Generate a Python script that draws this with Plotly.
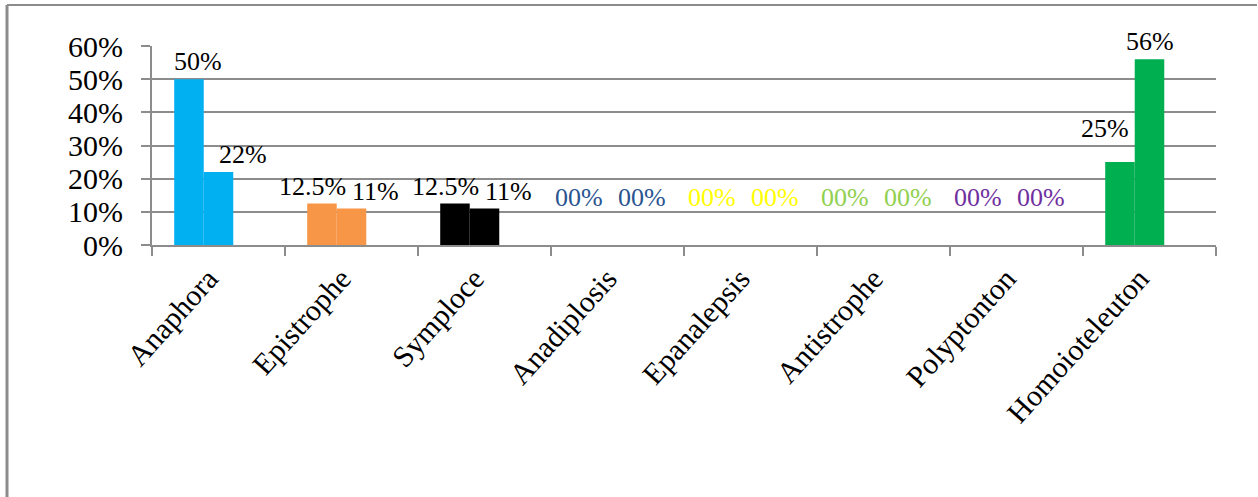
import plotly.graph_objects as go

# ---- data ----
categories = ["Anaphora", "Epistrophe", "Symploce", "Anadiplosis",
              "Epanalepsis", "Antistrophe", "Polyptonton", "Homoioteleuton"]
series_a = [0.50, 0.125, 0.125, 0.0, 0.0, 0.0, 0.0, 0.25]
series_b = [0.22, 0.11, 0.11, 0.0, 0.0, 0.0, 0.0, 0.56]
labels_a = ["50%", "12.5%", "12.5%", "00%", "00%", "00%", "00%", "25%"]
labels_b = ["22%", "11%", "11%", "00%", "00%", "00%", "00%", "56%"]
bar_colors = ["#00B0F0", "#F79646", "#000000", "#1F497D",
              "#FFFF00", "#92D050", "#7030A0", "#00B050"]
zero_label_colors = ["#000000", "#000000", "#000000", "#2A5591",
                     "#FFFF00", "#92D050", "#7030A0", "#000000"]
y_ticks = [0, 0.1, 0.2, 0.3, 0.4, 0.5, 0.6]
y_tick_text = ["0%", "10%", "20%", "30%", "40%", "50%", "60%"]

# ---- style ----
FONT = "Liberation Serif, Times New Roman, serif"
GRID = "#8C8C8C"
BAR_W = 0.222
OFF_A = -0.333
OFF_B = -0.111
ZERO_LABEL_LEVEL = 0.09

fig = go.Figure()
for vals, off in ((series_a, OFF_A), (series_b, OFF_B)):
    fig.add_trace(go.Bar(x=categories, y=vals, width=BAR_W, offset=off,
                         marker=dict(color=bar_colors, line=dict(width=0)),
                         showlegend=False, hoverinfo="skip"))

annotations = []
nudge_y = {("a", 7): 16}
nudge_x = {("a", 0): 18, ("b", 7): -24, ("a", 7): -6}
for key, vals, labs, off, xs in (("a", series_a, labels_a, OFF_A, -9),
                                  ("b", series_b, labels_b, OFF_B, 24)):
    for i, (v, t) in enumerate(zip(vals, labs)):
        color = zero_label_colors[i] if v == 0 else "#000000"
        annotations.append(dict(
            x=i + off + BAR_W / 2, y=ZERO_LABEL_LEVEL if v == 0 else v,
            xref="x", yref="y", text=t, showarrow=False,
            xanchor="center", yanchor="bottom",
            xshift=xs + nudge_x.get((key, i), 0),
            yshift=1 + nudge_y.get((key, i), 0),
            font=dict(family=FONT, size=26, color=color)))

fig.update_layout(
    width=1258, height=497,
    margin=dict(l=152, r=42, t=46, b=252),
    paper_bgcolor="white", plot_bgcolor="white",
    barmode="group",
    annotations=annotations,
    xaxis=dict(type="category", tickangle=-48, tickson="boundaries",
               ticks="outside", ticklen=9, tickcolor=GRID, tickwidth=2,
               showline=True, linecolor=GRID, linewidth=2,
               showgrid=False, ticklabelshift=-10, ticklabelstandoff=2,
               tickfont=dict(family=FONT, size=30, color="black"),
               range=[-0.5, 7.5]),
    yaxis=dict(range=[0, 0.6], tickvals=y_ticks, ticktext=y_tick_text,
               ticks="outside", ticklen=9, tickcolor=GRID, tickwidth=2,
               showline=True, linecolor=GRID, linewidth=2,
               showgrid=True, gridcolor=GRID, gridwidth=2,
               zeroline=False, ticklabelstandoff=12,
               tickfont=dict(family=FONT, size=30, color="black")),
    shapes=[
        dict(type="line", xref="paper", yref="paper",
             x0=-145 / 1064, x1=1105 / 1064, y0=1 + 41 / 199, y1=1 + 41 / 199,
             line=dict(color=GRID, width=2)),
        dict(type="line", xref="paper", yref="paper",
             x0=-145 / 1064, x1=-145 / 1064, y0=1 + 41 / 199, y1=-260 / 199,
             line=dict(color=GRID, width=3)),
    ],
)

fig.write_html("out.html")
